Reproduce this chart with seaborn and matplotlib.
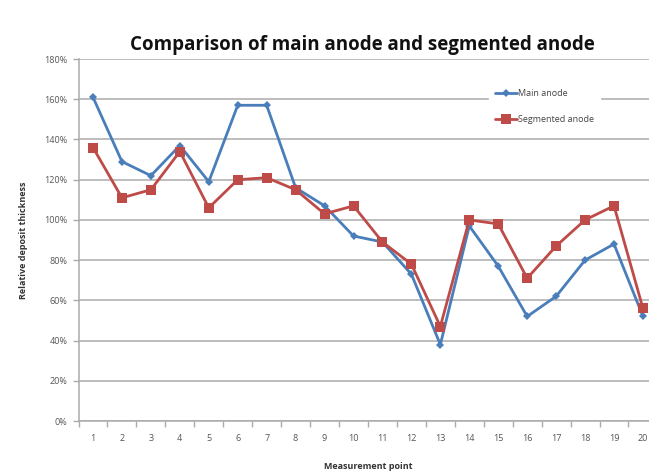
import numpy as np
import pandas as pd
import matplotlib
matplotlib.use("Agg")
import matplotlib.pyplot as plt
import seaborn as sns
from matplotlib.ticker import FixedLocator, PercentFormatter

# Relative deposit thickness (%) at each measurement point
points = list(range(1, 21))
main_anode = [161, 129, 122, 137, 119, 157, 157, 116, 107, 92,
              89, 73, 38, 97, 77, 52, 62, 80, 88, 52]
segmented_anode = [136, 111, 115, 134, 106, 120, 121, 115, 103, 107,
                   89, 78, 47, 100, 98, 71, 87, 100, 107, 56]
series_names = ["Main anode", "Segmented anode"]

df = pd.concat([
    pd.DataFrame({"point": points, "value": main_anode, "series": series_names[0]}),
    pd.DataFrame({"point": points, "value": segmented_anode, "series": series_names[1]}),
])

sns.set_theme(style="white")
plt.rcParams["font.family"] = ["Open Sans", "DejaVu Sans"]

fig = plt.figure(figsize=(6.49, 4.76), dpi=100)
ax = fig.add_axes([0.121, 0.1155, 0.892, 0.7605])

palette = {series_names[0]: "#4A7EBB", series_names[1]: "#BE4B48"}
markers = {series_names[0]: "D", series_names[1]: "s"}
sizes = {series_names[0]: 4.5, series_names[1]: 6.5}

for name in series_names:
    sub = df[df["series"] == name]
    sns.lineplot(data=sub, x="point", y="value", ax=ax, color=palette[name],
                 marker=markers[name], markersize=sizes[name],
                 markeredgewidth=0, linewidth=2.0, label=name, zorder=3)

grid_col = "#ABABAB"
ax.set_ylim(0, 180)
ax.set_xlim(0.5, 20.5)
ax.yaxis.set_major_locator(FixedLocator(np.arange(0, 181, 20)))
ax.yaxis.set_major_formatter(PercentFormatter(decimals=0))
ax.set_xticks(points)
ax.set_xticklabels([str(p) for p in points])
ax.xaxis.set_minor_locator(FixedLocator(np.arange(0.5, 21, 1)))

ax.grid(axis="y", color=grid_col, linewidth=1.1, zorder=0)
ax.set_axisbelow(True)
for side in ["top", "right"]:
    ax.spines[side].set_visible(False)
for side in ["left", "bottom"]:
    ax.spines[side].set_color(grid_col)
    ax.spines[side].set_linewidth(1.1)

ax.tick_params(axis="y", which="major", length=4, width=1, color=grid_col,
               labelsize=6.5, labelcolor="#555555", left=True, pad=4)
ax.tick_params(axis="x", which="major", length=0, labelsize=6.5,
               labelcolor="#555555", pad=9)
ax.tick_params(axis="x", which="minor", length=4, width=1, color=grid_col,
               bottom=True)

ax.set_xlabel("Measurement point", fontsize=6.5, fontweight="bold",
              color="#333333", labelpad=14)
ax.set_ylabel("Relative deposit thickness", fontsize=6.5, fontweight="bold",
              color="#333333", labelpad=12)

leg = ax.legend(loc="upper left", bbox_to_anchor=(0.702, 0.945), frameon=True,
                fontsize=6.5, handlelength=2.4, handletextpad=0.2,
                labelspacing=1.9, borderpad=0.6)
leg.get_frame().set_facecolor("white")
leg.get_frame().set_edgecolor("white")
leg.get_frame().set_alpha(1)
for t in leg.get_texts():
    t.set_color("#444444")

fig.text(0.558, 0.905, "Comparison of main anode and segmented anode",
         ha="center", va="center", fontsize=13.5, fontweight="bold",
         color="#111111")

fig.savefig("out.png", dpi=100)
